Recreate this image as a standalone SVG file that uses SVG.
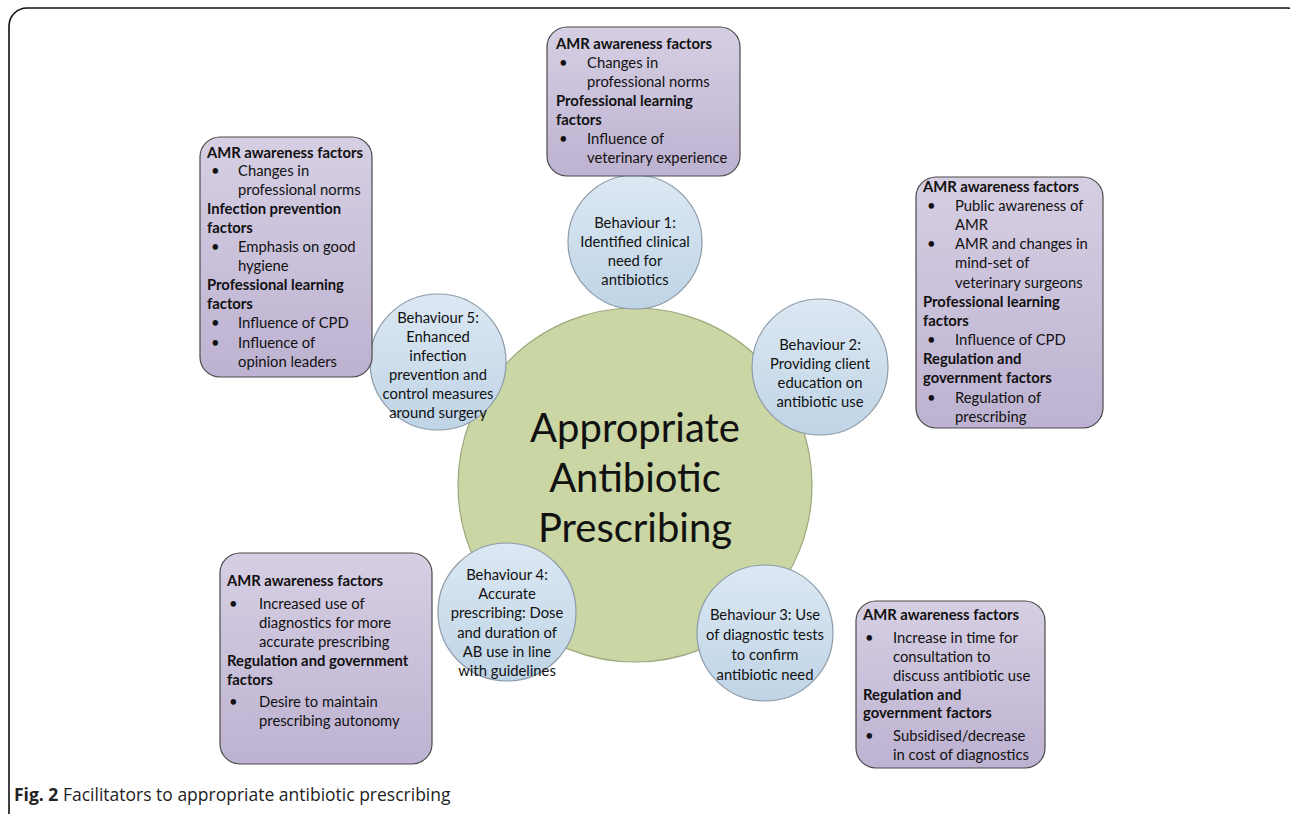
<svg xmlns="http://www.w3.org/2000/svg" width="1290" height="814" viewBox="0 0 1290 814">
<defs>
<linearGradient id="gBox" x1="0" y1="0" x2="0" y2="1">
<stop offset="0" stop-color="#d6cfe3"/>
<stop offset="1" stop-color="#bdb2d1"/>
</linearGradient>
<linearGradient id="gCirc" x1="0" y1="0" x2="0" y2="1">
<stop offset="0" stop-color="#dce8f3"/>
<stop offset="1" stop-color="#bfd4e6"/>
</linearGradient>
<style>
.box{fill:url(#gBox);stroke:#4a4a4a;stroke-width:1.2}
.circ{fill:url(#gCirc);stroke:#8d9ba8;stroke-width:1.2}
.t{font-family:Lato,"Liberation Sans",sans-serif;font-size:14.8px;fill:#111}
.b{font-weight:bold}
.c{font-family:Lato,"Liberation Sans",sans-serif;font-size:14.8px;fill:#111;text-anchor:middle}
.big{font-family:Lato,"Liberation Sans",sans-serif;font-size:40px;fill:#111;text-anchor:middle}
.cap{font-family:"Open Sans","Liberation Sans",sans-serif;font-size:17.5px;fill:#222}
</style>
</defs>
<rect x="9" y="8" width="1296" height="830" rx="18" fill="#fff" stroke="#111" stroke-width="1.6"/>
<g id="connectors"/>
<g id="center">
<circle cx="635" cy="485" r="177" fill="#cad6a4" stroke="#9aa77b" stroke-width="1.2"/>
<text class="big" x="635" y="442">Appropriate</text>
<text class="big" x="635" y="492">Antibiotic</text>
<text class="big" x="635" y="542">Prescribing</text>
</g>
<g id="behaviour1">
<circle class="circ" cx="635" cy="242" r="67"/>
<text class="c" x="635" y="228">Behaviour 1:</text>
<text class="c" x="635" y="247">Identified clinical</text>
<text class="c" x="635" y="266">need for</text>
<text class="c" x="635" y="285">antibiotics</text>
</g>
<g id="behaviour2">
<circle class="circ" cx="820" cy="367" r="68"/>
<text class="c" x="820" y="350">Behaviour 2:</text>
<text class="c" x="820" y="369">Providing  client</text>
<text class="c" x="820" y="388">education on</text>
<text class="c" x="820" y="407">antibiotic use</text>
</g>
<g id="behaviour3">
<circle class="circ" cx="765" cy="633" r="68"/>
<text class="c" x="765" y="620">Behaviour 3: Use</text>
<text class="c" x="765" y="640">of diagnostic tests</text>
<text class="c" x="765" y="660">to confirm</text>
<text class="c" x="765" y="680">antibiotic need</text>
</g>
<g id="behaviour4">
<circle class="circ" cx="507" cy="612" r="69"/>
<text class="c" x="507" y="580">Behaviour 4:</text>
<text class="c" x="507" y="599">Accurate</text>
<text class="c" x="507" y="618">prescribing: Dose</text>
<text class="c" x="507" y="638">and duration of</text>
<text class="c" x="507" y="657">AB use in line</text>
<text class="c" x="507" y="676">with guidelines</text>
</g>
<g id="behaviour5">
<circle class="circ" cx="438" cy="362" r="68"/>
<text class="c" x="438" y="323">Behaviour 5:</text>
<text class="c" x="438" y="342">Enhanced</text>
<text class="c" x="438" y="361">infection</text>
<text class="c" x="438" y="380">prevention and</text>
<text class="c" x="438" y="399">control measures</text>
<text class="c" x="438" y="418">around surgery</text>
</g>
<g id="box1">
<rect class="box" x="547" y="27" width="193" height="149" rx="20"/>
<text class="t b" x="556" y="49">AMR awareness factors</text>
<text class="t" x="559" y="68">•</text><text class="t" x="587" y="68">Changes in</text>
<text class="t" x="587" y="87">professional norms</text>
<text class="t b" x="556" y="106">Professional learning</text>
<text class="t b" x="556" y="125">factors</text>
<text class="t" x="559" y="144">•</text><text class="t" x="587" y="144">Influence of</text>
<text class="t" x="587" y="163">veterinary experience</text>
</g>
<g id="box5">
<rect class="box" x="200" y="137" width="172" height="240" rx="20"/>
<text class="t b" x="207" y="158">AMR awareness factors</text>
<text class="t" x="211" y="176">•</text><text class="t" x="238" y="176">Changes in</text>
<text class="t" x="238" y="195">professional norms</text>
<text class="t b" x="207" y="214">Infection prevention</text>
<text class="t b" x="207" y="233">factors</text>
<text class="t" x="211" y="252">•</text><text class="t" x="238" y="252">Emphasis on good</text>
<text class="t" x="238" y="271">hygiene</text>
<text class="t b" x="207" y="290">Professional learning</text>
<text class="t b" x="207" y="309">factors</text>
<text class="t" x="211" y="328">•</text><text class="t" x="238" y="328">Influence of CPD</text>
<text class="t" x="211" y="348">•</text><text class="t" x="238" y="348">Influence of</text>
<text class="t" x="238" y="367">opinion leaders</text>
</g>
<g id="box2">
<rect class="box" x="916" y="177" width="187" height="251" rx="20"/>
<text class="t b" x="923" y="192">AMR awareness factors</text>
<text class="t" x="927" y="211">•</text><text class="t" x="955" y="211">Public awareness of</text>
<text class="t" x="955" y="230">AMR</text>
<text class="t" x="927" y="249">•</text><text class="t" x="955" y="249">AMR and changes in</text>
<text class="t" x="955" y="268">mind-set of</text>
<text class="t" x="955" y="288">veterinary surgeons</text>
<text class="t b" x="923" y="307">Professional learning</text>
<text class="t b" x="923" y="326">factors</text>
<text class="t" x="927" y="345">•</text><text class="t" x="955" y="345">Influence of CPD</text>
<text class="t b" x="923" y="364">Regulation and</text>
<text class="t b" x="923" y="383">government factors</text>
<text class="t" x="927" y="403">•</text><text class="t" x="955" y="403">Regulation of</text>
<text class="t" x="955" y="422">prescribing</text>
</g>
<g id="box4">
<rect class="box" x="220" y="553" width="212" height="211" rx="20"/>
<text class="t b" x="227" y="586">AMR awareness factors</text>
<text class="t" x="229" y="609" font-size="17">•</text><text class="t" x="259" y="609">Increased use of</text>
<text class="t" x="259" y="628">diagnostics for more</text>
<text class="t" x="259" y="647">accurate prescribing</text>
<text class="t b" x="227" y="666">Regulation and government</text>
<text class="t b" x="227" y="685">factors</text>
<text class="t" x="229" y="707" font-size="17">•</text><text class="t" x="259" y="707">Desire to maintain</text>
<text class="t" x="259" y="726">prescribing autonomy</text>
</g>
<g id="box3">
<rect class="box" x="856" y="601" width="189" height="167" rx="20"/>
<text class="t b" x="863" y="620">AMR awareness factors</text>
<text class="t" x="865" y="643" font-size="17">•</text><text class="t" x="893" y="643">Increase in time for</text>
<text class="t" x="893" y="662">consultation to</text>
<text class="t" x="893" y="681">discuss antibiotic use</text>
<text class="t b" x="863" y="700">Regulation and</text>
<text class="t b" x="863" y="718">government factors</text>
<text class="t" x="865" y="741" font-size="17">•</text><text class="t" x="893" y="741">Subsidised/decrease</text>
<text class="t" x="893" y="760">in cost of diagnostics</text>
</g>
<g id="caption">
<text class="cap" x="14" y="801"><tspan font-weight="bold">Fig. 2</tspan> Facilitators to appropriate antibiotic prescribing</text>
</g>
</svg>
